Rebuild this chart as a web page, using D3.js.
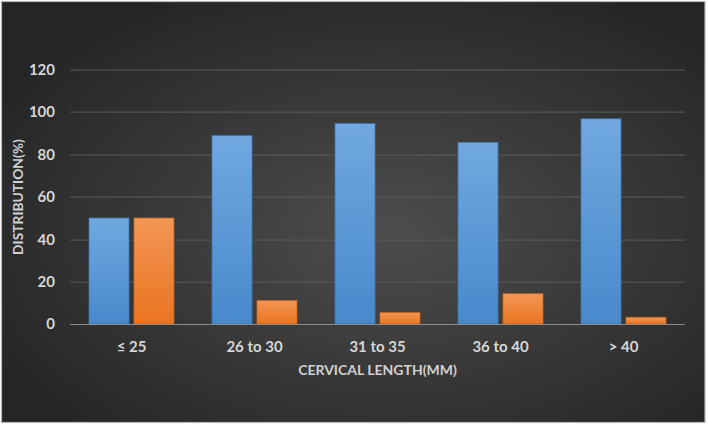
<!DOCTYPE html>
<html>
<head>
<meta charset="utf-8">
<script src="https://cdn.jsdelivr.net/npm/d3@7"></script>
<style>
  body { margin: 0; background: #fff; }
  svg { display: block; }
</style>
</head>
<body>
<div id="chart"></div>
<script>
// chart data
var categories = ['≤ 25', '26 to 30', '31 to 35', '36 to 40', '> 40'];
var seriesA = [50, 88.9, 94.6, 85.7, 96.8];
var seriesB = [50, 11.1, 5.4, 14.3, 3.2];
var yTicks = [0, 20, 40, 60, 80, 100, 120];

var W = 708, H = 426;
var margin = { left: 70, right: 23, top: 69.6, bottom: 102 };
var width = W - margin.left - margin.right;
var height = H - margin.top - margin.bottom;

var svg = d3.select('#chart').append('svg')
    .attr('width', W)
    .attr('height', H);

var defs = svg.append('defs');
var bg = defs.append('radialGradient').attr('id', 'bg')
    .attr('cx', '55%').attr('cy', '55%').attr('r', '65%');
bg.append('stop').attr('offset', '0%').attr('stop-color', '#4d4d4d');
bg.append('stop').attr('offset', '100%').attr('stop-color', '#252525');

var gBlue = defs.append('linearGradient').attr('id', 'blue')
    .attr('x1', 0).attr('y1', 0).attr('x2', 0).attr('y2', 1);
gBlue.append('stop').attr('offset', '0%').attr('stop-color', '#71a8e0');
gBlue.append('stop').attr('offset', '100%').attr('stop-color', '#4889cc');

var gOrange = defs.append('linearGradient').attr('id', 'orange')
    .attr('x1', 0).attr('y1', 0).attr('x2', 0).attr('y2', 1);
gOrange.append('stop').attr('offset', '0%').attr('stop-color', '#f39656');
gOrange.append('stop').attr('offset', '100%').attr('stop-color', '#eb741f');

// background + frame
svg.append('rect')
    .attr('x', 1.5).attr('y', 1.5)
    .attr('width', W - 4.5).attr('height', H - 5)
    .attr('fill', 'url(#bg)')
    .attr('stroke', '#b8b8b8')
    .attr('stroke-width', 1.2);

var g = svg.append('g')
    .attr('transform', 'translate(' + margin.left + ',' + margin.top + ')');

var x = d3.scaleBand()
    .domain(categories)
    .range([0, width]);

var inner = d3.scaleBand()
    .domain(['a', 'b'])
    .range([19, x.bandwidth() - 19])
    .paddingInner(0.11);

var y = d3.scaleLinear()
    .domain([0, 120])
    .range([height, 0]);

// gridlines
g.selectAll('.grid')
    .data(yTicks.filter(function(d) { return d > 0; }))
    .enter()
    .append('line')
    .attr('class', 'grid')
    .attr('x1', 0).attr('x2', width)
    .attr('y1', function(d) { return Math.round(y(d)) + 0.5; })
    .attr('y2', function(d) { return Math.round(y(d)) + 0.5; })
    .attr('stroke', '#5b5b5b')
    .attr('stroke-width', 1);

// y tick labels
g.selectAll('.ylab')
    .data(yTicks)
    .enter()
    .append('text')
    .attr('class', 'ylab')
    .attr('x', -15)
    .attr('y', function(d) { return y(d); })
    .attr('dy', '0.36em')
    .attr('text-anchor', 'end')
    .attr('fill', '#d6d6d6')
    .style('font-family', 'Lato, sans-serif')
    .style('font-weight', 'bold')
    .style('font-size', '15px')
    .text(function(d) { return d; });

// bars
var groups = g.selectAll('.cat')
    .data(categories)
    .enter()
    .append('g')
    .attr('class', 'cat')
    .attr('transform', function(d) { return 'translate(' + x(d) + ',0)'; });

groups.append('rect')
    .attr('x', inner('a'))
    .attr('width', inner.bandwidth())
    .attr('y', function(d, i) { return y(seriesA[i]); })
    .attr('height', function(d, i) { return height - y(seriesA[i]); })
    .attr('fill', 'url(#blue)')
    .attr('stroke', '#3f74ab')
    .attr('stroke-width', 0.8);

groups.append('rect')
    .attr('x', inner('b'))
    .attr('width', inner.bandwidth())
    .attr('y', function(d, i) { return y(seriesB[i]); })
    .attr('height', function(d, i) { return height - y(seriesB[i]); })
    .attr('fill', 'url(#orange)')
    .attr('stroke', '#c4621d')
    .attr('stroke-width', 0.8);

// x axis baseline
g.append('line')
    .attr('x1', 0).attr('x2', width)
    .attr('y1', height + 0.5).attr('y2', height + 0.5)
    .attr('stroke', '#8c8c8c')
    .attr('stroke-width', 1.2);

// x tick labels
g.selectAll('.xlab')
    .data(categories)
    .enter()
    .append('text')
    .attr('class', 'xlab')
    .attr('x', function(d) { return x(d) + x.bandwidth() / 2; })
    .attr('y', height + 28)
    .attr('text-anchor', 'middle')
    .attr('fill', '#d6d6d6')
    .style('font-family', 'Lato, sans-serif')
    .style('font-weight', 'bold')
    .style('font-size', '15px')
    .text(function(d) { return d; });

// axis titles
svg.append('text')
    .attr('x', margin.left + width / 2)
    .attr('y', 375)
    .attr('text-anchor', 'middle')
    .attr('fill', '#d0d0d0')
    .style('font-family', 'Lato, sans-serif')
    .style('font-weight', 'bold')
    .style('font-size', '14px')
    .text('CERVICAL LENGTH(MM)');

svg.append('text')
    .attr('transform', 'translate(23,' + 197 + ') rotate(-90)')
    .attr('text-anchor', 'middle')
    .attr('fill', '#d0d0d0')
    .style('font-family', 'Lato, sans-serif')
    .style('font-weight', 'bold')
    .style('font-size', '13.8px')
    .text('DISTRIBUTION(%)');
</script>
</body>
</html>
